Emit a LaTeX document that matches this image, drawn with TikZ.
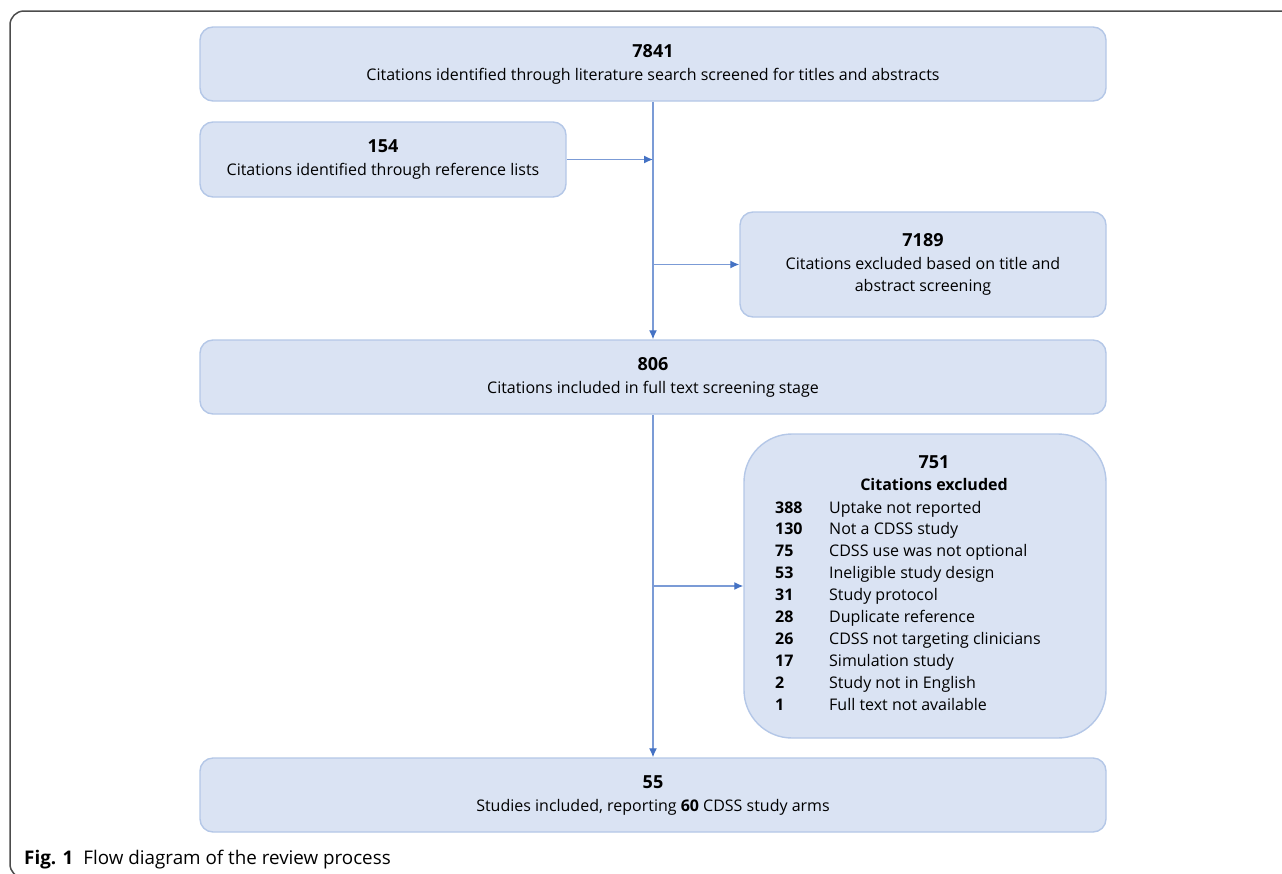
\documentclass[tikz,border=0pt]{standalone}
\usepackage{fontspec}
\setmainfont{Open Sans}
\usepackage{tikz}
\usetikzlibrary{arrows.meta}
\definecolor{boxfill}{HTML}{DAE3F3}
\definecolor{boxline}{HTML}{B4C7E7}
\definecolor{flowline}{HTML}{7B9BD6}
\definecolor{tipblue}{HTML}{4472C4}
\tikzset{
	>={Latex[length=9pt,width=8pt,color=tipblue]},
}
\tikzstyle{box}=[draw=boxline,fill=boxfill,line width=1.4pt,rounded corners=13pt,
    align=center,font=\fontsize{16}{22}\selectfont]
\tikzstyle{flow}=[->,draw=flowline,line width=1.3pt]
\tikzstyle{listnum}=[anchor=base west,inner sep=0pt,font=\fontsize{16}{22}\selectfont\bfseries]
\tikzstyle{listtxt}=[anchor=base west,inner sep=0pt,font=\fontsize{16}{22}\selectfont]
\newcommand{\bignum}[1]{{\fontsize{18}{22}\selectfont\bfseries #1}\\[1pt]}

\begin{document}
\begin{tikzpicture}[x=1pt,y=-1pt]
      \useasboundingbox (0,0) rectangle (1282,873);
      \draw[color=black!70,line width=1.5pt,rounded corners=14pt] (1290,11) -- (10,11) -- (10,878) -- (60,878);
      \node[box,minimum width=906,minimum height=74] (search) at (653,64)
          {\bignum{7841}Citations identified through literature search screened for titles and abstracts};
      \node[box,minimum width=366,minimum height=75] (refs) at (383,159.5)
          {\bignum{154}Citations identified through reference lists};
      \node[box,minimum width=366,minimum height=105] (excl1) at (923,264.5)
          {\bignum{7189}Citations excluded based on title and\\abstract screening};
      \node[box,minimum width=906,minimum height=74] (full) at (653,377)
          {\bignum{806}Citations included in full text screening stage};
      \node[box,minimum width=362,minimum height=304,rounded corners=48pt] (excl2) at (925,586) {};
      \node[box,minimum width=906,minimum height=74] (incl) at (653,795)
          {\bignum{55}Studies included, reporting \textbf{60} CDSS study arms};
      % reasons for exclusion
      \node[font=\fontsize{18}{22}\selectfont\bfseries,inner sep=0pt] (exclnum) at (934,462) {751};
      \node[font=\fontsize{16}{22}\selectfont\bfseries,inner sep=0pt] (excltitle) at (934,484) {Citations excluded};
      \foreach \n/\t [count=\i from 0] in {388/Uptake not reported,130/Not a CDSS study,
          75/CDSS use was not optional,53/Ineligible study design,31/Study protocol,
          28/Duplicate reference,26/CDSS not targeting clinicians,17/Simulation study,
          2/Study not in English,1/Full text not available}{
        \node[listnum] (num\i) at (775,{513+21.9*\i}) {\n};
        \node[listtxt] (why\i) at (829,{513+21.9*\i}) {\t};
      }
      \draw[flow] (search.south) -- (full.north);
      \draw[flow] (refs.east) -- (refs.east -| search.south);
      \draw[flow] (search.south |- excl1.west) -- (excl1.west);
      \draw[flow] (full.south) -- (incl.north);
      \draw[flow] (full.south |- excl2.west) -- (excl2.west);
      \node[anchor=base west,inner sep=0pt,font=\fontsize{18.8}{22}\selectfont] (caption) at (24,864)
          {\textbf{Fig. 1}\hspace{10pt}Flow diagram of the review process};
    \end{tikzpicture}
\end{document}
